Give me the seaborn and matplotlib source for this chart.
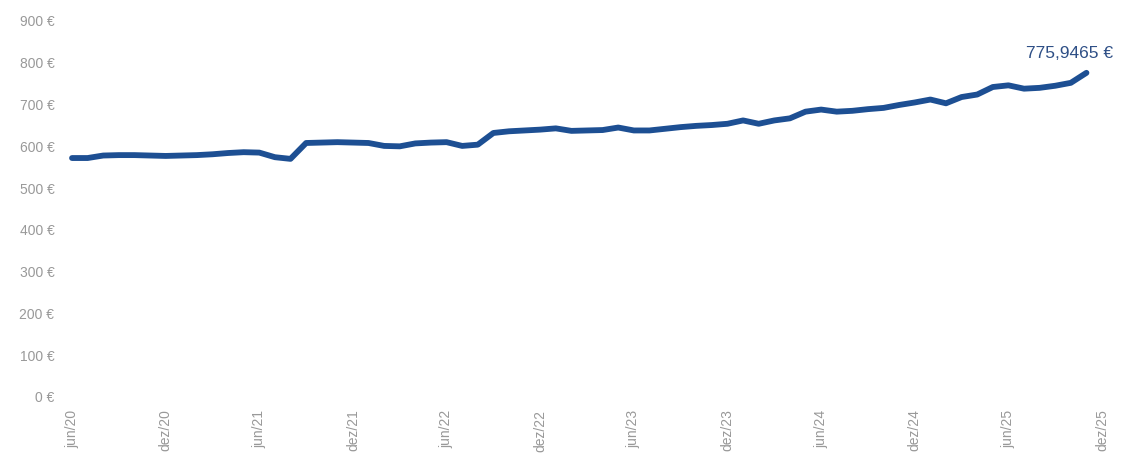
import pandas as pd
import matplotlib
matplotlib.use("Agg")
import matplotlib.pyplot as plt
from matplotlib.ticker import FuncFormatter
import seaborn as sns

# valores mensais (jun/20 .. nov/25)
valores = [
    572, 572, 578, 579, 579, 578, 577, 578, 579, 581, 584, 586,
    585, 574, 570, 608, 609, 610, 609, 608, 601, 600, 607, 609,
    610, 601, 604, 632, 636, 638, 640, 643, 637, 638, 639, 645,
    638, 638, 642, 646, 649, 651, 654, 662, 654, 662, 667, 683,
    688, 683, 685, 689, 692, 699, 705, 712, 703, 718, 724, 742,
    746, 738, 740, 745, 752, 775.9465,
]
meses = list(range(len(valores)))

# rótulos do eixo x (a cada 6 meses)
tick_pos = [0, 6, 12, 18, 24, 30, 36, 42, 48, 54, 60, 66]
tick_labels = ["jun/20", "dez/20", "jun/21", "dez/21", "jun/22", "dez/22",
               "jun/23", "dez/23", "jun/24", "dez/24", "jun/25", "dez/25"]
y_ticks = [0, 100, 200, 300, 400, 500, 600, 700, 800, 900]

df = pd.DataFrame({"mes": meses, "valor": valores})

sns.set_style("white")
plt.rcParams["font.family"] = ["Liberation Sans", "DejaVu Sans"]

fig = plt.figure(figsize=(11.22, 4.63), dpi=100)
ax = fig.add_axes([60 / 1122, 66 / 463, 1055 / 1122, 376 / 463])

sns.lineplot(data=df, x="mes", y="valor", color="#1d4f93", linewidth=4.2,
             ax=ax, solid_capstyle="round", solid_joinstyle="round")

ax.set_xlim(-0.77, 66.83)
ax.set_ylim(0, 900)
ax.set_yticks(y_ticks)
ax.yaxis.set_major_formatter(FuncFormatter(lambda v, p: f"{int(v)} €"))
ax.set_xticks(tick_pos)
ax.set_xticklabels(tick_labels, rotation=90, va="top", ha="center")
ax.tick_params(axis="y", length=0, pad=4, labelsize=10, labelcolor="#999999")
ax.tick_params(axis="x", length=0, pad=9, labelsize=10, labelcolor="#999999")
ax.set_xlabel("")
ax.set_ylabel("")
sns.despine(ax=ax, left=True, bottom=True)

# valor final
ultimo = valores[-1]
ax.annotate(f"{ultimo:.4f} €".replace(".", ","), xy=(meses[-1], ultimo),
            xytext=(19, 14), textcoords="offset points", ha="right", va="center",
            fontsize=12.5, color="#2e4f86", annotation_clip=False)

plt.savefig("out.png", dpi=100)
